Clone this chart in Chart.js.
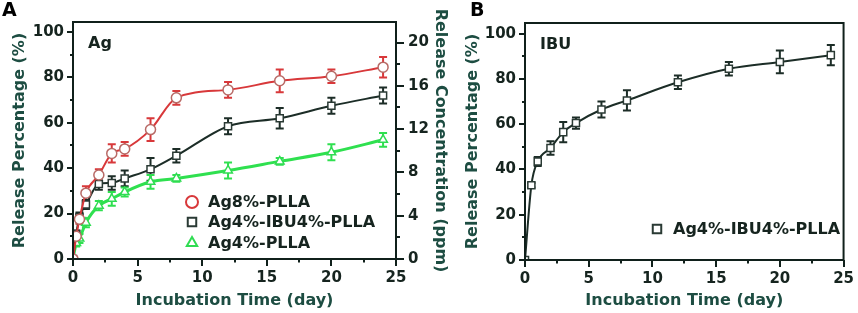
<!DOCTYPE html>
<html>
<head>
<meta charset="utf-8">
<script src="https://cdn.jsdelivr.net/npm/chart.js@4/dist/chart.umd.min.js"></script>
<style>
  body { margin: 0; background: #fff; }
  canvas { position: absolute; top: 0; }
  #chartA { left: 0; }
  #chartB { left: 450px; }
</style>
</head>
<body>
<canvas id="chartA" width="450" height="313"></canvas>
<canvas id="chartB" width="408" height="313"></canvas>
<script>
// Release profiles (days, % released, +/- error)
const daysA = [0, 0.25, 0.5, 1, 2, 3, 4, 6, 8, 12, 16, 20, 24];
const ag8Pct = [0, 10, 17.5, 29, 37, 46.5, 48.5, 57, 71, 74.5, 78.5, 80.5, 84.5];
const ag8Err = [0, 1.5, 2, 3, 2.5, 4, 3, 5, 3, 3.5, 5, 3, 4.5];
const agIbuPct = [0, 11, 18.5, 24, 33, 33.5, 35.5, 39.5, 45.5, 58.5, 62, 67.5, 72];
const agIbuErr = [0, 1.5, 2, 2, 2.5, 3, 3.5, 5, 3, 3.5, 4.5, 3.5, 3.5];
const ag4Pct = [0, 7, 9, 16, 23.5, 26.5, 29.5, 34, 35.5, 39, 43, 47, 52.5];
const ag4Err = [0, 1.5, 2, 2, 2, 3, 2, 3, 1.5, 3.5, 1.5, 3.5, 3];

const daysB = [0, 0.5, 1, 2, 3, 4, 6, 8, 12, 16, 20, 24];
const ibuPct = [0, 33, 43.5, 49.5, 56.5, 60.5, 66.5, 70.5, 78.5, 84.5, 87.5, 90.5];
const ibuErr = [0, 1, 2, 3, 4.5, 2.5, 3.5, 4.5, 3, 3, 5, 4.5];

// Tick values
const dayTicks = [0, 5, 10, 15, 20, 25];
const dayMinor = [2.5, 7.5, 12.5, 17.5, 22.5];
const pctTicks = [0, 20, 40, 60, 80, 100];
const pctMinor = [10, 30, 50, 70, 90];
const ppmTicks = [0, 4, 8, 12, 16, 20];
const ppmMinor = [2, 6, 10, 14, 18];

const TEXT = '#16241f';
const TITLE = '#1d4d42';
const FRAME = '#10201b';

Chart.defaults.font.family = "'DejaVu Sans', sans-serif";
Chart.defaults.font.weight = 'bold';
Chart.defaults.color = TEXT;

function pts(xs, ys) {
  return xs.map((x, i) => ({ x: x, y: ys[i] }));
}

// ----------------------------------------------------------------------------
// plugins
// ----------------------------------------------------------------------------

const errorBars = {
  id: 'errorBars',
  beforeDatasetsDraw(chart) {
    const ctx = chart.ctx;
    chart.data.datasets.forEach((ds, i) => {
      if (!ds.errors) return;
      const meta = chart.getDatasetMeta(i);
      const ys = chart.scales[meta.yAxisID];
      ctx.save();
      ctx.strokeStyle = ds.errorColor;
      ctx.lineWidth = 2;
      meta.data.forEach((el, j) => {
        const e = ds.errors[j];
        if (!e) return;
        const v = ds.data[j].y;
        const top = ys.getPixelForValue(v + e);
        const bot = ys.getPixelForValue(v - e);
        ctx.beginPath();
        ctx.moveTo(el.x, top); ctx.lineTo(el.x, bot);
        ctx.moveTo(el.x - 4, top); ctx.lineTo(el.x + 4, top);
        ctx.moveTo(el.x - 4, bot); ctx.lineTo(el.x + 4, bot);
        ctx.stroke();
      });
      ctx.restore();
    });
  }
};

// frame, tick marks, panel letters, inner labels and legend
const decor = {
  id: 'decor',
  afterDraw(chart, args, opts) {
    const ctx = chart.ctx;
    const a = chart.chartArea;
    ctx.save();
    ctx.strokeStyle = FRAME;
    ctx.lineWidth = 2;
    ctx.strokeRect(a.left, a.top, a.right - a.left, a.bottom - a.top);

    (opts.ticks || []).forEach(t => {
      const s = chart.scales[t.id];
      const draw = (v, len) => {
        const p = Math.round(s.getPixelForValue(v));
        ctx.beginPath();
        if (s.isHorizontal()) {
          ctx.moveTo(p, a.bottom); ctx.lineTo(p, a.bottom + len);
        } else if (s.position === 'left') {
          ctx.moveTo(a.left, p); ctx.lineTo(a.left - len, p);
        } else {
          ctx.moveTo(a.right, p); ctx.lineTo(a.right + len, p);
        }
        ctx.stroke();
      };
      t.major.forEach(v => draw(v, t.len));
      t.minor.forEach(v => draw(v, t.len / 2));
    });

    ctx.fillStyle = '#000';
    ctx.font = "bold 19px 'DejaVu Sans'";
    ctx.textBaseline = 'top';
    ctx.textAlign = 'left';
    ctx.fillText(opts.letter, opts.letterX, 2);

    ctx.fillStyle = TEXT;
    ctx.font = "bold 16px 'DejaVu Sans'";
    ctx.fillText(opts.label, a.left + 15, a.top + 14);

    ctx.textBaseline = 'middle';
    opts.legend.forEach((row, k) => {
      const ds = chart.data.datasets[k];
      ctx.save();
      ctx.strokeStyle = ds.legendColor || ds.pointBorderColor;
      ctx.fillStyle = '#fff';
      ctx.lineWidth = 2;
      Chart.helpers.drawPoint(ctx, { pointStyle: ds.pointStyle, radius: 6, borderWidth: 2 }, row.x, row.y);
      ctx.restore();
      ctx.fillStyle = TEXT;
      ctx.font = "bold 16px 'DejaVu Sans'";
      ctx.fillText(ds.label, row.x + 16, row.y + 1);
    });
    ctx.restore();
  }
};

function fixedTicks(values) {
  return scale => { scale.ticks = values.map(v => ({ value: v })); };
}

function xAxis(height) {
  return {
    type: 'linear',
    min: 0,
    max: 25,
    afterBuildTicks: fixedTicks(dayTicks),
    afterFit: s => { s.height = height; },
    grid: { display: false, drawTicks: true, tickLength: 6 },
    border: { display: false },
    ticks: { font: { size: 15 }, color: TEXT, padding: 4, maxRotation: 0 },
    title: {
      display: true,
      text: 'Incubation Time (day)',
      color: TITLE,
      font: { size: 16 },
      padding: { top: 0, bottom: 3 }
    }
  };
}

function pctAxis(width, max, titlePad) {
  return {
    type: 'linear',
    position: 'left',
    min: 0,
    max: max,
    afterBuildTicks: fixedTicks(pctTicks),
    afterFit: s => { s.width = width; },
    grid: { display: false, drawTicks: true, tickLength: 6 },
    border: { display: false },
    ticks: { font: { size: 15 }, color: TEXT, padding: 3 },
    title: {
      display: true,
      text: 'Release Percentage (%)',
      color: TITLE,
      font: { size: 16 },
      padding: { top: titlePad, bottom: 0 }
    }
  };
}

// ----------------------------------------------------------------------------
// Panel A - Ag release
// ----------------------------------------------------------------------------

new Chart(document.getElementById('chartA'), {
  type: 'line',
  data: {
    datasets: [{
      label: 'Ag8%-PLLA',
      data: pts(daysA, ag8Pct),
      errors: ag8Err,
      errorColor: '#d8383a',
      borderColor: '#d8383a',
      borderWidth: 2,
      pointStyle: 'circle',
      pointRadius: 5,
      pointBorderWidth: 1.5,
      pointBorderColor: '#b86a66',
      legendColor: '#d8383a',
      pointBackgroundColor: '#fff',
      cubicInterpolationMode: 'monotone'
    }, {
      label: 'Ag4%-IBU4%-PLLA',
      data: pts(daysA, agIbuPct),
      errors: agIbuErr,
      errorColor: '#1c2d27',
      borderColor: '#1c2d27',
      borderWidth: 2,
      pointStyle: 'rect',
      pointRadius: 5,
      pointBorderWidth: 1.5,
      pointBorderColor: '#2a3a34',
      pointBackgroundColor: '#fff',
      cubicInterpolationMode: 'monotone'
    }, {
      label: 'Ag4%-PLLA',
      data: pts(daysA, ag4Pct),
      errors: ag4Err,
      errorColor: '#2fe04f',
      borderColor: '#2fe04f',
      borderWidth: 3,
      pointStyle: 'triangle',
      pointRadius: 5,
      pointBorderWidth: 1.5,
      pointBorderColor: '#2fdc52',
      pointBackgroundColor: '#fff',
      cubicInterpolationMode: 'monotone'
    }]
  },
  options: {
    responsive: false,
    animation: false,
    devicePixelRatio: 1,
    layout: { padding: { top: 22, left: 0, right: 0, bottom: 0 } },
    scales: {
      x: xAxis(54),
      y: pctAxis(73, 104.4, 10),
      y2: {
        type: 'linear',
        position: 'right',
        min: 0,
        max: 21.9,
        afterBuildTicks: fixedTicks(ppmTicks),
        afterFit: s => { s.width = 54; },
        grid: { display: false, drawTicks: true, tickLength: 8 },
        border: { display: false },
        ticks: { font: { size: 15 }, color: TEXT, padding: 4 },
        title: {
          display: true,
          text: 'Release Concentration (ppm)',
          color: TITLE,
          font: { size: 16 },
          padding: { top: 0, bottom: 0 }
        }
      }
    },
    plugins: {
      legend: { display: false },
      tooltip: { enabled: false },
      decor: {
        letter: 'A', letterX: 2, label: 'Ag',
        ticks: [
          { id: 'x', major: dayTicks, minor: dayMinor, len: 7 },
          { id: 'y', major: pctTicks, minor: pctMinor, len: 6 },
          { id: 'y2', major: ppmTicks, minor: ppmMinor, len: 8 }
        ],
        legend: [{ x: 192, y: 202 }, { x: 192, y: 222 }, { x: 192, y: 243 }]
      }
    }
  },
  plugins: [errorBars, decor]
});

// ----------------------------------------------------------------------------
// Panel B - IBU release
// ----------------------------------------------------------------------------

new Chart(document.getElementById('chartB'), {
  type: 'line',
  data: {
    datasets: [{
      label: 'Ag4%-IBU4%-PLLA',
      data: pts(daysB, ibuPct),
      errors: ibuErr,
      errorColor: '#1c2d27',
      borderColor: '#1c2d27',
      borderWidth: 2,
      pointStyle: 'rect',
      pointRadius: 5,
      pointBorderWidth: 1.5,
      pointBorderColor: '#2a3a34',
      pointBackgroundColor: '#fff',
      cubicInterpolationMode: 'monotone'
    }]
  },
  options: {
    responsive: false,
    animation: false,
    devicePixelRatio: 1,
    layout: { padding: { top: 23, left: 0, right: 11, bottom: 0 } },
    scales: {
      x: xAxis(53),
      y: pctAxis(75, 104.7, 13)
    },
    plugins: {
      legend: { display: false },
      tooltip: { enabled: false },
      decor: {
        letter: 'B', letterX: 20, label: 'IBU',
        ticks: [
          { id: 'x', major: dayTicks, minor: dayMinor, len: 7 },
          { id: 'y', major: pctTicks, minor: pctMinor, len: 6 }
        ],
        legend: [{ x: 207, y: 229 }]
      }
    }
  },
  plugins: [errorBars, decor]
});
</script>
</body>
</html>
